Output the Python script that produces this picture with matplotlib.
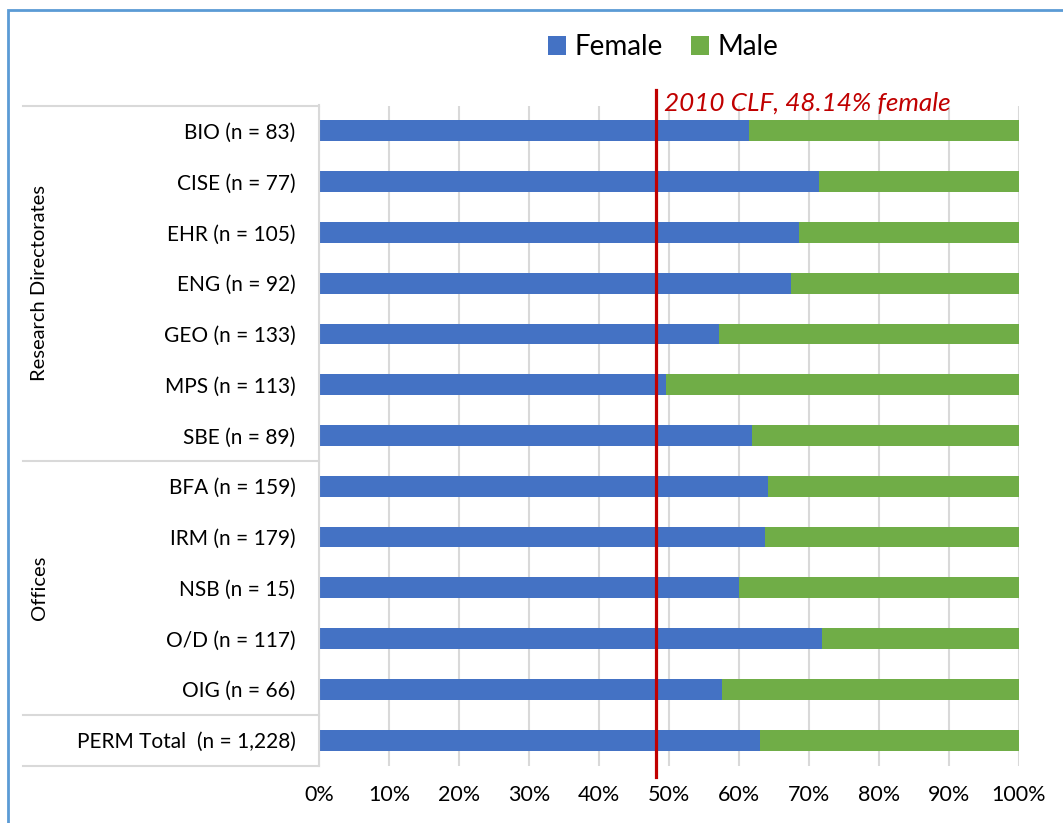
import matplotlib.pyplot as plt
from matplotlib.patches import Rectangle
from matplotlib.lines import Line2D

plt.rcParams['font.family'] = ['Lato', 'DejaVu Sans']

# data (female share, %)
labels = ['BIO (n = 83)', 'CISE (n = 77)', 'EHR (n = 105)', 'ENG (n = 92)',
          'GEO (n = 133)', 'MPS (n = 113)', 'SBE (n = 89)',
          'BFA (n = 159)', 'IRM (n = 179)', 'NSB (n = 15)', 'O/D (n = 117)',
          'OIG (n = 66)', 'PERM Total  (n = 1,228)']
female = [61.4, 71.4, 68.6, 67.4, 57.1, 49.6, 61.9,
          64.1, 63.7, 60.0, 71.9, 57.6, 63.0]
male = [100 - f for f in female]
groups = ['Research Directorates', 'Offices']
group_span = [(0, 6), (7, 11)]
clf_female = 48.14
clf_label = '2010 CLF, 48.14% female'
xticks = list(range(0, 101, 10))

W, H = 1063, 823
fig = plt.figure(figsize=(W / 100, H / 100), dpi=100)
ax = fig.add_axes([319 / W, 1 - 765.5 / H, 700 / W, 660 / H])

y = list(range(len(labels)))
ax.barh(y, female, height=0.41, color='#4472c4', label='Female', zorder=2)
ax.barh(y, male, left=female, height=0.41, color='#70ad47', label='Male', zorder=2)

ax.set_xlim(0, 100)
ax.set_ylim(len(labels) - 0.5, -0.5)
ax.set_xticks(xticks)
ax.set_xticklabels([f'{t}%' for t in xticks], fontsize=15.5)
ax.set_yticks(y)
ax.set_yticklabels(labels, fontsize=15)
ax.tick_params(axis='x', length=0, pad=14)
ax.tick_params(axis='y', length=0, pad=17)
ax.grid(axis='x', color='#d9d9d9', linewidth=1.5, zorder=0)
for s in ['top', 'right', 'bottom']:
    ax.spines[s].set_visible(False)
ax.spines['left'].set_color('#d9d9d9')
ax.spines['left'].set_linewidth(1.5)

# reference line
trans = ax.get_xaxis_transform()
ax.plot([clf_female, clf_female], [-0.017, 1.024], transform=trans,
        color='#c00000', linewidth=2.3, clip_on=False, zorder=4)
ax.text(clf_female + 1.1, 1.003, clf_label, transform=trans, color='#c00000',
        fontsize=18.8, style='italic', va='center', ha='left')

# category table lines on the left
def ypix(v):
    return 1 - (105.5 + (v + 0.5) * 660 / len(labels)) / H

x0 = 23 / W
x1 = 319 / W
for v in [-0.5, 6.5, 11.5, 12.5]:
    fig.add_artist(Line2D([x0, x1], [ypix(v), ypix(v)], color='#d9d9d9', linewidth=1.5))
for g, (a, b) in zip(groups, group_span):
    fig.text(40 / W, (ypix(a - 0.5) + ypix(b + 0.5)) / 2, g, rotation=90,
             fontsize=14.5, ha='center', va='center')

# outer frame
fig.add_artist(Rectangle((8 / W, -0.1), 1.2, 1 - 10 / H + 0.1, fill=False,
                         edgecolor='#5b9bd5', linewidth=2, transform=fig.transFigure))

fig.legend(loc='center', bbox_to_anchor=(663 / W, 1 - 47 / H), ncol=2, frameon=False,
           fontsize=20, handlelength=0.65, handleheight=0.65, handletextpad=0.3,
           columnspacing=1.0)

fig.savefig('out.png', dpi=100)
